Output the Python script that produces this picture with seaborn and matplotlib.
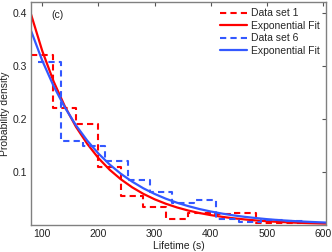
import matplotlib
matplotlib.use('Agg')
import matplotlib.pyplot as plt
import seaborn as sns
import pandas as pd

# histogram steps (left bin edges + last right edge)
set1_edges = [80, 120, 160, 200, 240, 280, 320, 360, 400, 440, 480, 520, 560]
set1_values = [0.32, 0.22, 0.19, 0.11, 0.054, 0.033, 0.011, 0.022, 0.020, 0.022, 0.003, 0.003]

set6_edges = [93, 133, 172, 212, 252, 291, 331, 370, 410, 450, 489, 529, 568]
set6_values = [0.307, 0.158, 0.148, 0.121, 0.085, 0.062, 0.041, 0.048, 0.012, 0.005, 0.010, 0.008]

# exponential fit curves
fit_x = [80, 100, 120, 140, 160, 180, 200, 220, 240, 260, 280, 300, 320, 340,
         360, 380, 400, 420, 440, 460, 480, 500, 520, 540, 560, 580, 600, 610]
fit1_y = [0.397, 0.328, 0.271, 0.224, 0.185, 0.153, 0.126, 0.104, 0.086, 0.071,
          0.0586, 0.0484, 0.040, 0.033, 0.0272, 0.0225, 0.0186, 0.0154, 0.0127,
          0.0105, 0.0086, 0.0071, 0.0059, 0.0049, 0.0040, 0.0033, 0.0027, 0.0025]
fit6_y = [0.366, 0.3097, 0.2622, 0.2219, 0.1878, 0.1590, 0.1346, 0.1139, 0.0964,
          0.0817, 0.0691, 0.0585, 0.0495, 0.0419, 0.0355, 0.0300, 0.0254, 0.0215,
          0.0182, 0.0154, 0.0131, 0.0110, 0.0093, 0.0079, 0.0067, 0.0057, 0.0048, 0.0044]

red = '#ff0000'
blue = '#3358ff'

sns.set_style('white')
plt.rcParams['font.family'] = ['Liberation Sans', 'DejaVu Sans']

fig = plt.figure(figsize=(3.32, 2.52), dpi=100)
ax = fig.add_axes([31 / 332, 27 / 252, 295 / 332, 223 / 252])

s1 = pd.DataFrame({'x': set1_edges, 'y': set1_values + [set1_values[-1]]})
s6 = pd.DataFrame({'x': set6_edges, 'y': set6_values + [set6_values[-1]]})
fits = pd.DataFrame({'x': fit_x, 'f1': fit1_y, 'f6': fit6_y})

sns.lineplot(data=s1, x='x', y='y', ax=ax, color=red, lw=1.5, drawstyle='steps-post',
             dashes=False, linestyle=(0, (3, 2)), label='Data set 1')
sns.lineplot(data=fits, x='x', y='f1', ax=ax, color=red, lw=1.6, label='Exponential Fit')
sns.lineplot(data=s6, x='x', y='y', ax=ax, color=blue, lw=1.5, drawstyle='steps-post',
             dashes=False, linestyle=(0, (3, 2)), label='Data set 6')
sns.lineplot(data=fits, x='x', y='f6', ax=ax, color=blue, lw=1.6, label='Exponential Fit')

ax.set_xlim(80, 605)
ax.set_ylim(0, 0.42)
ax.set_xticks([100, 200, 300, 400, 500, 600])
ax.set_yticks([0.1, 0.2, 0.3, 0.4])
ax.set_yticklabels(['0.1', '0.2', '0.3', '0.4'])
ax.tick_params(direction='in', length=3, width=0.8, color='#555555', labelsize=7.5,
               top=True, right=True, pad=3, labelcolor='#222222')
for sp in ax.spines.values():
    sp.set_color('#808080')
    sp.set_linewidth(1.0)

ax.set_xlabel('Lifetime (s)', fontsize=7.5, labelpad=1, color='#222222')
ax.set_ylabel('Probability density', fontsize=7.5, labelpad=2, color='#222222')
ax.text(0.07, 0.94, '(c)', transform=ax.transAxes, fontsize=7.5, va='center', color='#222222')

leg = ax.legend(loc='upper right', frameon=False, fontsize=7.5, handlelength=2.6,
                handletextpad=0.4, labelspacing=0.25, borderaxespad=0.2)

fig.savefig('out.png', dpi=100)
